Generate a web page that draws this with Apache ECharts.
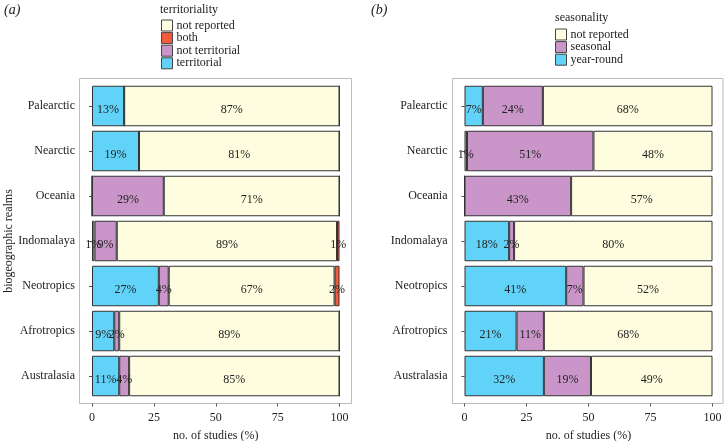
<!DOCTYPE html>
<html>
<head>
<meta charset="utf-8">
<script src="https://cdn.jsdelivr.net/npm/echarts@6/dist/echarts.min.js"></script>
<style>html,body{margin:0;padding:0;background:#fff;}#c{width:725px;height:441px;}</style>
</head>
<body>
<div id="c"></div>
<script>
// ---- data ----
const realms = ['Palearctic', 'Nearctic', 'Oceania', 'Indomalaya', 'Neotropics', 'Afrotropics', 'Australasia'];
const xTicks = [0, 25, 50, 75, 100];

// panel (a) territoriality (% of studies), stacked left to right
const territorial    = [13, 19, 0, 1, 27, 9, 11];
const notTerritorial = [0, 0, 29, 9, 4, 2, 4];
const terrNotReported = [87, 81, 71, 89, 67, 89, 85];
const both           = [0, 0, 0, 1, 2, 0, 0];

// panel (b) seasonality (% of studies), stacked left to right
const yearRound      = [7.4, 1, 0, 18, 41, 21, 32];
const seasonal       = [24.2, 51, 43, 2, 7, 11, 19];
const seasNotReported = [68.4, 48, 57, 80, 52, 68, 49];

const legendA = ['not reported', 'both', 'not territorial', 'territorial'];
const legendB = ['not reported', 'seasonal', 'year-round'];

// ---- styles ----
const FONT = 'Liberation Serif';
const C_BLUE = '#62D3F8', C_PURPLE = '#CA96C9', C_CREAM = '#FEFDE0', C_RED = '#F45A3C';

const chart = echarts.init(document.getElementById('c'), null, {renderer: 'canvas'});

function boxGrid(left, width) {
  return {left: left, top: 78.5, width: width, height: 325, show: true,
          borderColor: '#bdbdbd', borderWidth: 1, backgroundColor: '#fff',
          containLabel: false, outerBoundsMode: 'none'};
}
function dataGrid(left, width) {
  return {left: left, top: 83.5, width: width, height: 315,
          containLabel: false, outerBoundsMode: 'none'};
}
function valueAxis(gi) {
  return {
    type: 'value', gridIndex: gi, min: xTicks[0], max: xTicks[xTicks.length - 1], interval: 25,
    offset: 5,
    axisLine: {show: false},
    axisTick: {show: true, length: 3, lineStyle: {color: '#555'}},
    splitLine: {show: false},
    axisLabel: {fontFamily: FONT, fontSize: 12, color: '#222', margin: 8},
    name: 'no. of studies (%)', nameLocation: 'middle', nameGap: 26,
    nameTextStyle: {fontFamily: FONT, fontSize: 12, color: '#222'}
  };
}
function catAxis(gi, withName) {
  const a = {
    type: 'category', gridIndex: gi, data: realms, inverse: true, offset: 12.5,
    axisLine: {show: false},
    axisTick: {show: true, length: 3, alignWithLabel: true, lineStyle: {color: '#555'}},
    splitLine: {show: false},
    axisLabel: {fontFamily: FONT, fontSize: 12, color: '#222', margin: 4.5}
  };
  if (withName) {
    a.name = 'biogeographic realms';
    a.nameLocation = 'middle';
    a.nameGap = 64;
    a.nameRotate = 90;
    a.nameTextStyle = {fontFamily: FONT, fontSize: 12, color: '#222'};
  }
  return a;
}
function barSeries(name, data, color, xi, stack) {
  return {
    type: 'bar', name: name, data: data, stack: stack,
    xAxisIndex: xi, yAxisIndex: xi,
    barCategoryGap: '10%',
    itemStyle: {color: color, borderColor: '#333', borderWidth: 1},
    label: {
      show: true, position: 'inside', offset: [0, 4], fontFamily: FONT, fontSize: 12, color: '#222',
      formatter: p => (p.value > 0 ? Math.round(p.value) + '%' : '')
    },
    emphasis: {disabled: true},
    animation: false
  };
}
const legendCommon = {
  orient: 'vertical', itemWidth: 11, itemHeight: 11, itemGap: 0.6, icon: 'rect',
  padding: 0, selectedMode: false,
  itemStyle: {borderColor: '#444', borderWidth: 1},
  textStyle: {fontFamily: FONT, fontSize: 12, color: '#222', padding: [0, 0, 0, -1]}
};

chart.setOption({
  animation: false,
  backgroundColor: '#fff',
  title: [
    {text: '(a)', left: 4, top: 3, padding: 0, textStyle: {fontFamily: FONT, fontSize: 14, fontStyle: 'italic', fontWeight: 'normal', color: '#222'}},
    {text: '(b)', left: 371, top: 3, padding: 0, textStyle: {fontFamily: FONT, fontSize: 14, fontStyle: 'italic', fontWeight: 'normal', color: '#222'}},
    {text: 'territoriality', left: 160, top: 4, padding: 0, textStyle: {fontFamily: FONT, fontSize: 12, fontWeight: 'normal', color: '#222'}},
    {text: 'seasonality', left: 555, top: 12, padding: 0, textStyle: {fontFamily: FONT, fontSize: 12, fontWeight: 'normal', color: '#222'}}
  ],
  legend: [
    Object.assign({}, legendCommon, {data: legendA, left: 161, top: 19.5}),
    Object.assign({}, legendCommon, {data: legendB, left: 555, top: 28.5})
  ],
  grid: [boxGrid(79.5, 272), dataGrid(92, 247.5), boxGrid(452.5, 270.5), dataGrid(464.5, 248)],
  xAxis: [
    {type: 'value', gridIndex: 0, show: false},
    valueAxis(1),
    {type: 'value', gridIndex: 2, show: false},
    valueAxis(3)
  ],
  yAxis: [
    {type: 'value', gridIndex: 0, show: false},
    catAxis(1, true),
    {type: 'value', gridIndex: 2, show: false},
    catAxis(3, false)
  ],
  series: [
    barSeries('territorial', territorial, C_BLUE, 1, 'a'),
    barSeries('not territorial', notTerritorial, C_PURPLE, 1, 'a'),
    barSeries('not reported', terrNotReported, C_CREAM, 1, 'a'),
    barSeries('both', both, C_RED, 1, 'a'),
    barSeries('year-round', yearRound, C_BLUE, 3, 'b'),
    barSeries('seasonal', seasonal, C_PURPLE, 3, 'b'),
    barSeries('not reported', seasNotReported, C_CREAM, 3, 'b')
  ]
});
</script>
</body>
</html>
